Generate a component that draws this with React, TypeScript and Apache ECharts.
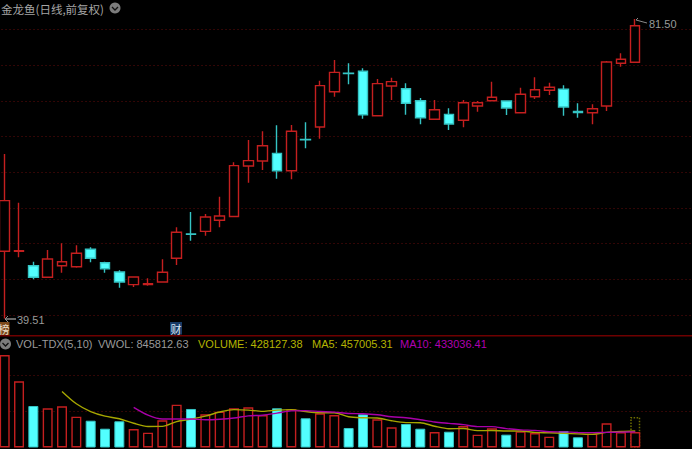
import React, { useEffect, useRef } from "react";
import * as echarts from "echarts";

const opens = [48.92,48.92,46.90,45.27,46.90,46.76,49.20,47.32,46.02,44.24,44.24,44.61,47.94,51.35,51.72,53.27,53.80,60.88,61.59,62.66,60.22,64.60,66.35,71.30,73.91,74.17,67.94,72.10,71.72,70.04,67.43,68.12,67.29,69.30,70.04,70.00,68.36,70.60,71.50,71.64,68.53,68.36,69.30,75.29,75.43];
const closes = [56.02,49.01,45.27,47.84,47.46,48.64,47.94,46.48,44.61,45.31,44.38,45.97,51.59,51.30,53.73,53.87,60.93,61.63,63.73,60.22,65.75,64.54,72.15,74.02,73.86,68.08,72.43,72.71,69.68,67.66,68.78,66.77,69.76,69.76,70.52,69.02,70.94,71.58,71.92,69.16,68.39,68.92,75.47,75.85,80.56];
const lows = [39.51,48.08,45.00,45.27,45.92,46.62,47.38,45.92,43.82,43.91,44.10,44.61,47.00,50.41,51.11,52.29,53.80,58.54,60.32,59.10,59.02,63.37,64.71,70.60,72.34,67.52,67.94,70.14,68.08,66.73,67.43,65.93,66.31,68.50,70.04,68.04,68.28,70.28,70.84,67.94,67.66,66.73,68.60,74.81,75.43];
const highs = [62.57,55.74,47.46,49.10,50.04,49.76,49.48,47.46,46.25,45.36,45.13,47.80,52.29,54.43,54.15,56.58,61.40,64.53,65.75,66.59,66.63,67.01,72.85,75.75,75.29,74.59,73.09,73.27,72.48,70.42,70.14,68.98,70.14,70.00,72.70,70.04,71.87,73.32,72.57,72.20,69.68,69.54,75.61,76.69,81.50];
const volumes = [2555,1829,1146,1083,1138,851,740,519,724,511,409,751,1182,1064,917,989,1083,1110,898,1083,1055,807,945,898,539,917,779,558,649,519,428,436,594,354,530,354,447,400,298,456,282,381,668,428,428.13];
const ma5 = [null,null,null,null,1550,1209,992,866,794,669,581,583,715,783,865,981,1047,1033,999,1033,1046,991,958,958,849,821,816,738,688,684,587,518,525,466,468,454,456,417,406,391,377,363,417,443,457];
const ma10 = [null,null,null,null,null,null,null,null,null,1110,895,787,791,789,767,781,815,874,891,948,1013,1019,995,978,940,933,903,848,823,767,704,667,632,578,577,521,488,472,437,431,416,411,418,425,433];
const projected = 845.81;
const priceTicks = [40,45,50,55,60,65,70,75,80];
const volumeTicks = [1000,2000];

const RED = "#c41f1f";
const CYAN = "#52ffff";
const CYAN_LINE = "#35c4c4";
const GRID = "#640c0c";
const GRAY = "#9a9a9a";
const SANS = "'Liberation Sans', Arial, sans-serif";
const CJK = "'Noto Sans CJK SC', sans-serif";

const slots = 49;
const categories = Array.from({ length: slots }, (_, i) => String(i + 1));

const chevron = (cx: number, cy: number) => [
  { type: "circle", shape: { cx, cy, r: 5.5 }, style: { fill: "#7c7c7c" } },
  { type: "polyline", shape: { points: [[cx - 3, cy - 1], [cx, cy + 2], [cx + 3, cy - 1]] }, style: { stroke: "#111", lineWidth: 1.3, fill: "none" } },
];

const label = (x: number, y: number, text: string, fill: string, font = SANS, fontSize = 11) => ({
  type: "text", x, y, style: { text, fill, fontFamily: font, fontSize, textVerticalAlign: "middle" },
});

export default function App() {
  const ref = useRef<HTMLDivElement>(null);
  useEffect(() => {
    document.body.style.margin = "0";
    document.body.style.background = "#fff";
    const chart = echarts.init(ref.current!, undefined, { renderer: "svg" });
    const xAxis = (gridIndex: number) => ({
      type: "category", gridIndex, data: categories, boundaryGap: true,
      axisLine: { show: false }, axisTick: { show: false }, axisLabel: { show: false }, splitLine: { show: false },
    });
    const splitLine = { show: true, lineStyle: { color: GRID, type: [1, 3], width: 1 } };
    chart.setOption({
      animation: false,
      backgroundColor: "#000",
      grid: [
        { left: -2.47, top: 0, width: 702.2, height: 333, outerBoundsMode: "none" },
        { left: -2.47, top: 337, width: 702.2, height: 110.5, outerBoundsMode: "none" },
      ],
      xAxis: [xAxis(0), xAxis(1)],
      yAxis: [
        {
          type: "value", gridIndex: 0, min: 37.46, max: 84.165,
          axisLine: { show: false }, axisLabel: { show: false },
          axisTick: { show: false, customValues: priceTicks }, splitLine,
        },
        {
          type: "value", gridIndex: 1, min: 0, max: 3052.5,
          axisLine: { show: false }, axisLabel: { show: false },
          axisTick: { show: false, customValues: volumeTicks }, splitLine,
        },
      ],
      series: [
        {
          type: "candlestick", xAxisIndex: 0, yAxisIndex: 0, barWidth: 10,
          data: opens.map((o, i) => [o, closes[i], lows[i], highs[i]]),
          itemStyle: { color: "#000", color0: CYAN, borderColor: RED, borderColor0: CYAN_LINE, borderWidth: 1.4 },
        },
        {
          type: "bar", xAxisIndex: 1, yAxisIndex: 1, barWidth: 10, barGap: "-100%", z: 1,
          data: volumes.map((_, i) => (i === volumes.length - 1 ? projected : null)),
          itemStyle: { color: "transparent", borderColor: "#6e6e00", borderWidth: 1.5, borderType: [1.5, 1.5] },
        },
        {
          type: "bar", xAxisIndex: 1, yAxisIndex: 1, barWidth: 10, barGap: "-100%", z: 2,
          data: volumes.map((v, i) => ({
            value: v,
            itemStyle: closes[i] >= opens[i]
              ? { color: "#000", borderColor: RED, borderWidth: 1.4 }
              : { color: CYAN, borderColor: CYAN_LINE, borderWidth: 1 },
          })),
        },
        {
          type: "line", xAxisIndex: 1, yAxisIndex: 1, data: ma5, smooth: 0.3, showSymbol: false, z: 3,
          lineStyle: { color: "#a6a600", width: 1.4 },
        },
        {
          type: "line", xAxisIndex: 1, yAxisIndex: 1, data: ma10, smooth: 0.3, showSymbol: false, z: 4,
          lineStyle: { color: "#a800a8", width: 1.4 },
        },
      ],
      graphic: [
        { type: "rect", shape: { x: 0, y: 335, width: 692, height: 1.5 }, style: { fill: "#6e0000" } },
        label(1, 9, "金龙鱼(日线,前复权)", "#a5a5a5", CJK, 11.5),
        ...chevron(115, 8),
        ...chevron(5.5, 344),
        label(16, 344, "VOL-TDX(5,10)", GRAY),
        label(98, 344, "VWOL: 845812.63", GRAY),
        label(198, 344, "VOLUME: 428127.38", "#b4b400"),
        label(312, 344, "MA5: 457005.31", "#b4b400"),
        label(400, 344, "MA10: 433036.41", "#b000b0"),
        label(649, 24, "81.50", GRAY),
        label(17, 320, "39.51", GRAY),
        { type: "polyline", shape: { points: [[638, 18], [636, 20], [647, 23]] }, style: { stroke: "#8a8a8a", lineWidth: 1, fill: "none" } },
        { type: "polyline", shape: { points: [[8, 316], [5, 319], [16, 319], [5, 319], [8, 322]] }, style: { stroke: "#8a8a8a", lineWidth: 1, fill: "none" } },
        { type: "rect", shape: { x: 0, y: 322, width: 9.5, height: 13 }, style: { fill: "#7d4a1c" } },
        label(-1.5, 329, "榜", "#e8dcc8", CJK, 11),
        { type: "rect", shape: { x: 170, y: 322, width: 12, height: 12.5 }, style: { fill: "#173a66" } },
        label(170.5, 328.5, "财", "#d8e4f0", CJK, 11),
      ],
    });
    return () => chart.dispose();
  }, []);
  return <div ref={ref} style={{ width: 692, height: 448.5 }} />;
}
